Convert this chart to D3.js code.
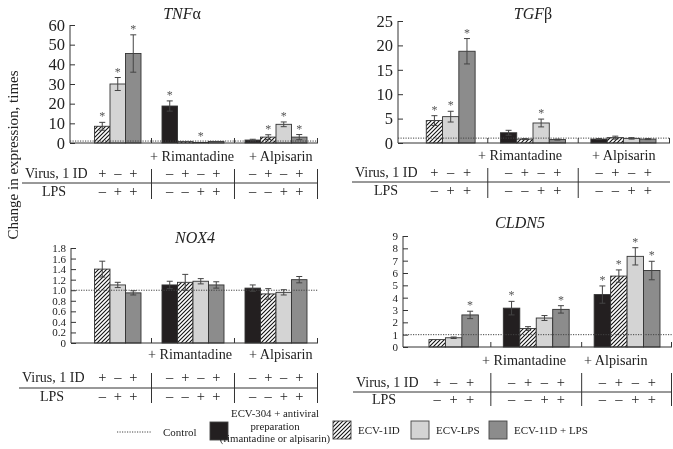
<!DOCTYPE html>
<html><head><meta charset="utf-8">
<script src="https://cdn.jsdelivr.net/npm/d3@7"></script>
<style>
body{margin:0;background:#fff;}
svg{will-change:transform;}
</style></head>
<body><svg id="c" width="673" height="449"></svg>
<script>
// ---------- DATA ----------
const groups = ["Control", "+ Rimantadine", "+ Alpisarin"];
const series = ["ECV-304 + antiviral preparation", "ECV-1ID", "ECV-LPS", "ECV-11D + LPS"];
const virusSigns = ["\u2013", "+", "\u2013", "+"];
const lpsSigns = ["\u2013", "\u2013", "+", "+"];

const tnfValues = [[null, 8.5, 30, 45.5], [18.8, 0.7, 0.3, 0.8], [1.5, 3, 9.5, 3]];
const tnfErrors = [[null, 2, 3.3, 9.5], [2.6, 0, 0, 0], [0.4, 1.2, 1.2, 1.3]];
const tnfStars = [[0, 1, 1, 1], [1, 0, 1, 0], [0, 1, 1, 1]];
const tnfTicks = [0, 10, 20, 30, 40, 50, 60];

const tgfValues = [[null, 4.6, 5.4, 18.8], [2.1, 0.8, 4.1, 0.7], [0.8, 1.1, 0.95, 0.8]];
const tgfErrors = [[null, 1, 1.1, 2.6], [0.5, 0.1, 0.8, 0.1], [0.1, 0.3, 0.15, 0.1]];
const tgfStars = [[0, 1, 1, 1], [0, 0, 1, 0], [0, 0, 0, 0]];
const tgfTicks = [0, 5, 10, 15, 20, 25];

const noxValues = [[null, 1.4, 1.1, 0.95], [1.1, 1.15, 1.17, 1.1], [1.04, 0.93, 0.96, 1.2]];
const noxErrors = [[null, 0.15, 0.05, 0.04], [0.07, 0.15, 0.05, 0.06], [0.06, 0.1, 0.05, 0.06]];
const noxStars = [[0, 0, 0, 0], [0, 0, 0, 0], [0, 0, 0, 0]];
const noxTicks = [0, 0.2, 0.4, 0.6, 0.8, 1.0, 1.2, 1.4, 1.6, 1.8];

const cldValues = [[null, 0.6, 0.75, 2.6], [3.15, 1.5, 2.35, 3.05], [4.25, 5.75, 7.35, 6.2]];
const cldErrors = [[null, 0, 0.06, 0.3], [0.55, 0.15, 0.2, 0.3], [0.7, 0.5, 0.7, 0.75]];
const cldStars = [[0, 0, 0, 1], [1, 0, 0, 1], [1, 1, 1, 1]];
const cldTicks = [0, 1, 2, 3, 4, 5, 6, 7, 8, 9];

const controlLevel = 1;

// ---------- STYLE ----------
const FONT = "'Liberation Serif', 'DejaVu Serif', 'Times New Roman', serif";
const fills = ["#231f20", "url(#hatch)", "#d4d4d4", "#8c8c8c"];
const svg = d3.select("#c").attr("font-family", FONT);
const defs = svg.append("defs");
const pat = defs.append("pattern").attr("id", "hatch").attr("patternUnits", "userSpaceOnUse")
  .attr("width", 4).attr("height", 4);
pat.append("rect").attr("width", 4).attr("height", 4).attr("fill", "#fff");
pat.append("path").attr("d", "M-1,1 l2,-2 M0,4 l4,-4 M3,5 l2,-2").attr("stroke", "#111").attr("stroke-width", 1.1);

function txt(sel, x, y, s, size) {
  return sel.append("text").attr("x", x).attr("y", y).attr("font-family", FONT)
    .attr("font-size", size).attr("fill", "#222").text(s);
}

function panel(cfg) {
  const g = svg.append("g");
  const y = d3.scaleLinear().domain([0, cfg.max]).range([cfg.y0, cfg.y1]);
  const gx = d3.scaleBand().domain(groups).range(cfg.groupRange).paddingInner(cfg.pad);
  const sx = d3.scaleBand().domain(series).range([0, gx.bandwidth()]);

  // y axis
  const ax = d3.axisLeft(y).tickValues(cfg.ticks).tickSize(-5).tickPadding(10)
    .tickFormat(cfg.fmt);
  const ag = g.append("g").attr("transform", `translate(${cfg.ax},0)`).call(ax)
    .attr("font-family", FONT);
  ag.select(".domain").attr("stroke", "#333").attr("d", `M0,${cfg.y0}V${cfg.y1}`);
  ag.selectAll(".tick line").attr("stroke", "#333");
  ag.selectAll(".tick text").attr("font-size", cfg.tickFont).attr("fill", "#222")
    .attr("font-family", FONT).attr("x", -5);

  // bars
  groups.forEach((grp, gi) => {
    series.forEach((s, si) => {
      const v = cfg.values[gi][si];
      if (v == null) return;
      const x = gx(grp) + sx(s);
      g.append("rect").attr("x", x).attr("y", y(v)).attr("width", sx.bandwidth())
        .attr("height", y(0) - y(v)).attr("fill", fills[si]).attr("stroke", "#333").attr("stroke-width", 0.9);
      const e = cfg.errors[gi][si];
      const cx = x + sx.bandwidth() / 2;
      if (e > 0) {
        g.append("path").attr("d",
          `M${cx},${y(v + e)}V${y(Math.max(0, v - e))}M${cx - 3},${y(v + e)}H${cx + 3}M${cx - 3},${y(Math.max(0, v - e))}H${cx + 3}`)
          .attr("stroke", "#444").attr("stroke-width", 1).attr("fill", "none");
      }
      if (cfg.stars[gi][si]) {
        txt(g, cx, y(v + e) - 2, "*", 12).attr("text-anchor", "middle").attr("fill", "#555");
      }
    });
  });

  // control line
  g.append("line").attr("x1", cfg.ax).attr("x2", cfg.axEnd).attr("y1", y(controlLevel)).attr("y2", y(controlLevel))
    .attr("stroke", "#444").attr("stroke-width", 1).attr("stroke-dasharray", "1.2,1.3");

  // x axis baseline with separators
  g.append("line").attr("x1", cfg.ax).attr("x2", cfg.axEnd).attr("y1", y(0)).attr("y2", y(0))
    .attr("stroke", "#333").attr("stroke-width", 1);
  const seps = [
    (gx(groups[0]) + gx.bandwidth() + gx(groups[1])) / 2,
    (gx(groups[1]) + gx.bandwidth() + gx(groups[2])) / 2
  ];
  seps.concat([cfg.axEnd - 0.5]).forEach(sx0 => {
    g.append("line").attr("x1", sx0).attr("x2", sx0).attr("y1", y(0)).attr("y2", y(0) - 5)
      .attr("stroke", "#333");
  });

  // title
  const t = txt(g, cfg.titleX, cfg.titleY, null, 16).attr("text-anchor", "middle").attr("font-style", "italic");
  t.append("tspan").text(cfg.title);
  if (cfg.titleSuffix) t.append("tspan").attr("font-style", "normal").text(cfg.titleSuffix);

  // drug labels
  [1, 2].forEach(gi => txt(g, cfg.labelX[gi - 1], cfg.labelY, groups[gi], 14.2));

  // table
  txt(g, cfg.tabX, cfg.virusY, "Virus, 1 ID", 14);
  txt(g, cfg.lpsX, cfg.lpsY, "LPS", 14).attr("text-anchor", "middle");
  g.append("line").attr("x1", cfg.tabX - 3).attr("x2", cfg.axEnd).attr("y1", cfg.lineY).attr("y2", cfg.lineY)
    .attr("stroke", "#333");
  seps.concat(cfg.rightSep ? [cfg.axEnd - 0.5] : []).forEach(sx0 => {
    g.append("line").attr("x1", sx0).attr("x2", sx0).attr("y1", cfg.sepTop).attr("y2", cfg.sepBottom)
      .attr("stroke", "#333");
  });
  groups.forEach((grp, gi) => {
    series.forEach((s, si) => {
      if (cfg.values[gi][si] == null) return;
      const cx = gx(grp) + sx(s) + sx.bandwidth() / 2;
      txt(g, cx, cfg.virusY, virusSigns[si], 14.5).attr("text-anchor", "middle");
      txt(g, cx, cfg.lpsY, lpsSigns[si], 14.5).attr("text-anchor", "middle");
    });
  });
}

const intFmt = d3.format("d");
panel({ values: tnfValues, errors: tnfErrors, stars: tnfStars, ticks: tnfTicks, max: 60, fmt: intFmt,
  ax: 70, axEnd: 318, y0: 143, y1: 25, groupRange: [79, 307], pad: 0.253, tickFont: 16.5,
  title: "TNF", titleSuffix: "\u03b1", titleX: 182, titleY: 19,
  labelX: [150, 249], labelY: 161,
  tabX: 25, virusY: 178, lpsX: 54, lpsY: 196, lineY: 183, sepTop: 169, sepBottom: 199, rightSep: true });

panel({ values: tgfValues, errors: tgfErrors, stars: tgfStars, ticks: tgfTicks, max: 25, fmt: intFmt,
  ax: 398, axEnd: 670, y0: 143, y1: 21, groupRange: [410, 656], pad: 0.28, tickFont: 16.5,
  title: "TGF", titleSuffix: "\u03b2", titleX: 533, titleY: 19,
  labelX: [478, 592], labelY: 160,
  tabX: 355, virusY: 177, lpsX: 386, lpsY: 195, lineY: 182, sepTop: 168, sepBottom: 198, rightSep: false });

panel({ values: noxValues, errors: noxErrors, stars: noxStars, ticks: noxTicks, max: 1.8,
  fmt: d => d === 0 ? "0" : d3.format(".1f")(d),
  ax: 71, axEnd: 318, y0: 343, y1: 248, groupRange: [79, 307], pad: 0.253, tickFont: 11,
  title: "NOX4", titleX: 195, titleY: 243,
  labelX: [148, 249], labelY: 359,
  tabX: 22, virusY: 382, lpsX: 52, lpsY: 401, lineY: 388, sepTop: 373, sepBottom: 403, rightSep: true });

panel({ values: cldValues, errors: cldErrors, stars: cldStars, ticks: cldTicks, max: 9, fmt: intFmt,
  ax: 403, axEnd: 672, y0: 347, y1: 236, groupRange: [412.5, 660], pad: 0.275, tickFont: 11,
  title: "CLDN5", titleX: 520, titleY: 228,
  labelX: [482, 584], labelY: 365,
  tabX: 356, virusY: 387, lpsX: 384, lpsY: 404, lineY: 392, sepTop: 373, sepBottom: 406, rightSep: true });

// y label
txt(svg, 0, 0, "Change in expression, times", 15).attr("transform", "translate(18,155) rotate(-90)")
  .attr("text-anchor", "middle");

// legend
const lg = svg.append("g");
lg.append("line").attr("x1", 117).attr("x2", 152).attr("y1", 432).attr("y2", 432)
  .attr("stroke", "#444").attr("stroke-dasharray", "1.2,1.3");
txt(lg, 163, 436, "Control", 11);
const legItems = [
  { x: 210, y: 422, s: 18, fill: fills[0] },
  { x: 333, y: 421, s: 18, fill: fills[1], label: series[1], tx: 358 },
  { x: 411, y: 421, s: 18, fill: fills[2], label: series[2], tx: 436 },
  { x: 489, y: 421, s: 18, fill: fills[3], label: series[3], tx: 514 }
];
legItems.forEach(it => {
  lg.append("rect").attr("x", it.x).attr("y", it.y).attr("width", it.s).attr("height", it.s)
    .attr("fill", it.fill).attr("stroke", "#444").attr("stroke-width", 0.9);
  if (it.label) txt(lg, it.tx, it.y + 13, it.label, 11);
});
["ECV-304 + antiviral", "preparation", "(rimantadine or alpisarin)"].forEach((l, i) => {
  txt(lg, 275, 417 + i * 12.5, l, 10.8).attr("text-anchor", "middle");
});
</script></body></html>
